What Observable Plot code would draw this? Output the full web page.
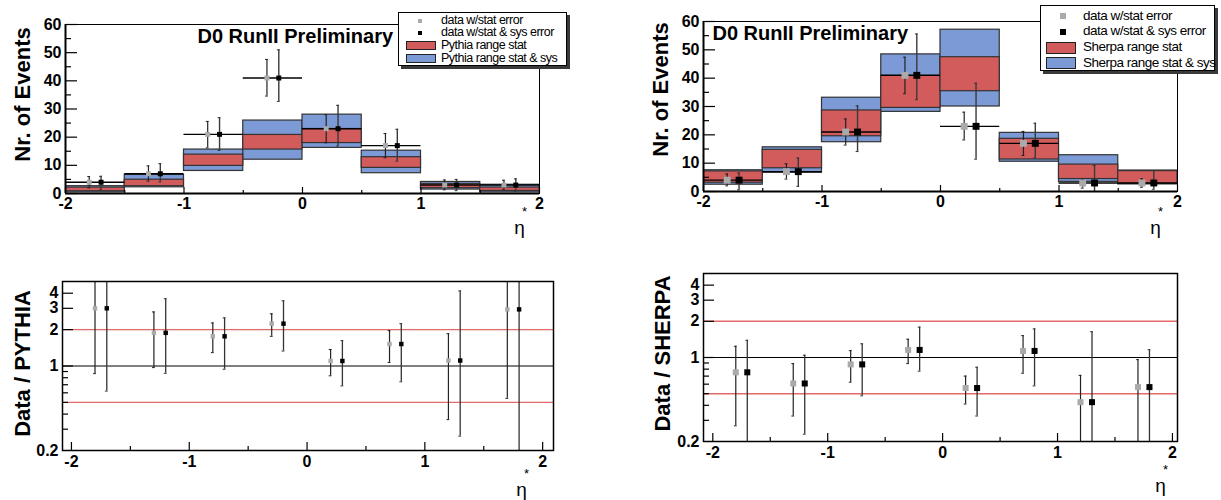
<!DOCTYPE html>
<html><head><meta charset="utf-8">
<script src="https://cdn.jsdelivr.net/npm/d3@7"></script>
<script src="https://cdn.jsdelivr.net/npm/@observablehq/plot@0.6"></script>
<style>
body{margin:0;background:#fff;}
#root{position:relative;width:1221px;height:500px;overflow:hidden;background:#fff;font-family:"Liberation Sans",Arial,sans-serif;}
.panel{position:absolute;}
.panel svg g[aria-label$="tick label"] text{font-weight:bold;font-size:16px;}
.legend{position:absolute;background:#fff;border:1px solid #000;box-shadow:3px 3px 0 #3a3a3a;box-sizing:border-box;}
.legend .item{position:absolute;white-space:nowrap;line-height:1;}
.legend .sw{position:absolute;border:1px solid #222;box-sizing:border-box;}
.legend .mk{position:absolute;}
</style></head><body><div id="root"></div>
<script>
// ---------- data ----------
const binLo = [-2, -1.5, -1, -0.5, 0, 0.5, 1, 1.5];
const binHi = [-1.5, -1, -0.5, 0, 0.5, 1, 1.5, 2];
const grayX = [-1.8, -1.3, -0.8, -0.3, 0.2, 0.7, 1.2, 1.7];
const blackX = [-1.7, -1.2, -0.7, -0.2, 0.3, 0.8, 1.3, 1.8];
const events = [4, 7, 21, 41, 23, 17, 3, 3];

// Pythia panel: data errors
const pyStatLo = [2, 4.4, 16.2, 34.6, 18, 12.7, 1.3, 1.5];
const pyStatHi = [6, 9.8, 25.6, 47.6, 28, 21.3, 4.8, 4.7];
const pyTotLo = [1.5, 4.1, 15.3, 32.7, 16.9, 11.5, 1.0, 0.8];
const pyTotHi = [6.1, 10.6, 26.9, 51, 31.3, 22.8, 5.0, 5.2];
// Pythia bands
const pyBlueLo = [0.4, 2.2, 8.0, 12.0, 16.2, 7.2, 1.4, 0.4];
const pyBlueHi = [2.6, 6.6, 15.6, 25.9, 28.0, 15.2, 4.1, 3.1];
const pyRedLo = [0.8, 2.6, 9.8, 15.6, 17.9, 9.1, 1.9, 0.9];
const pyRedHi = [2.1, 4.9, 13.8, 20.8, 22.9, 12.9, 3.4, 2.1];

// Sherpa panel: data errors
const shStatLo = [2, 4.4, 16.4, 34.5, 18.2, 12.7, 1.2, 1.5];
const shStatHi = [6.2, 9.8, 25.6, 47.4, 28, 21.2, 4.1, 4.5];
const shTotLo = [0.6, 1.8, 14.1, 32.4, 11.4, 11.9, 0, 0.8];
const shTotHi = [6.5, 11.8, 30.2, 55.6, 38.2, 24.1, 9.2, 7.4];
// Sherpa bands
const shBlueLo = [2.4, 6.6, 17.4, 28.1, 30.0, 10.5, 3.4, 2.5];
const shBlueHi = [7.5, 15.6, 33.1, 48.4, 57.1, 20.7, 12.8, 7.4];
const shRedLo = [3.1, 8.2, 19.5, 29.5, 35.4, 11.3, 4.4, 2.7];
const shRedHi = [7.1, 14.7, 28.6, 40.9, 47.4, 18.6, 9.5, 7.2];

// Ratio data / PYTHIA
const rPy = [3.0, 1.88, 1.76, 2.24, 1.10, 1.52, 1.11, 2.94];
const rPyStatLo = [0.865, 0.97, 1.29, 1.76, 0.83, 1.07, 0.36, 0.54];
const rPyStatHi = [6, 2.8, 2.27, 2.7, 1.37, 1.96, 1.85, 6];
const rPyTotLo = [0.62, 0.87, 0.94, 1.33, 0.685, 0.74, 0.263, 0.1];
const rPyTotHi = [6, 3.6, 2.5, 3.46, 1.62, 2.24, 4.18, 6];
// Ratio data / SHERPA
const rSh = [0.753, 0.608, 0.876, 1.156, 0.557, 1.134, 0.425, 0.567];
const rShStatLo = [0.27, 0.326, 0.623, 0.89, 0.41, 0.74, 0.15, 0.15];
const rShStatHi = [1.24, 0.89, 1.14, 1.42, 0.70, 1.52, 0.71, 0.96];
const rShTotLo = [0.15, 0.23, 0.48, 0.77, 0.326, 0.58, 0.1, 0.1];
const rShTotHi = [1.39, 1.045, 1.30, 1.79, 0.83, 1.73, 1.64, 1.16];

// ticks & labels
const xMajor = [-2, -1, 0, 1, 2];
const xMinor = [-1.5, -0.5, 0.5, 1.5];
const yEvMajor = [0, 10, 20, 30, 40, 50, 60];
const yEvMinor = [5, 15, 25, 35, 45, 55];
const yRatioLabels = [0.2, 1, 2, 3, 4];
const yRatioMajor = [1, 2, 3, 4];
const yRatioMinor = [0.3, 0.4, 0.5, 0.6, 0.7, 0.8, 0.9];
const refLines = [0.5, 2];
const titleText = "D0 RunII Preliminary";
const legendPythia = ["data w/stat error", "data w/stat & sys error", "Pythia range stat", "Pythia range stat & sys"];
const legendSherpa = ["data w/stat error", "data w/stat & sys error", "Sherpa range stat", "Sherpa range stat & sys"];

// ---------- style ----------
const BLUE = "#7b9ad6", RED = "#d25b5c", GRAY = "#aaaaaa", REDLINE = "#e46a6a";
const FONT = "'Liberation Sans', Arial, Helvetica, sans-serif";
const root = document.getElementById("root");

function place(svg, left, top) {
  const d = document.createElement("div");
  d.className = "panel";
  d.style.left = left + "px"; d.style.top = top + "px";
  d.appendChild(svg);
  root.appendChild(d);
}

function frameText(str, anchor, dx, dy, opts = {}) {
  return Plot.text([str], {frameAnchor: anchor, text: d => d, dx, dy, ...opts});
}

function caps(rows, xk, lok, hik, c, stroke) {
  return [
    Plot.ruleY(rows, {y: lok, x1: d => d[xk] - c, x2: d => d[xk] + c, stroke, strokeWidth: 1, clip: true}),
    Plot.ruleY(rows, {y: hik, x1: d => d[xk] - c, x2: d => d[xk] + c, stroke, strokeWidth: 1, clip: true})
  ];
}

function etaLabel(dx, dy) {
  return [
    frameText("η", "bottom-right", dx, dy, {fontSize: 19, fontWeight: "normal", textAnchor: "middle", lineAnchor: "middle"}),
    frameText("*", "bottom-right", dx + 5, dy - 16, {fontSize: 13, fontWeight: "normal", textAnchor: "middle", lineAnchor: "middle"})
  ];
}

function topPanel(p) {
  const rows = binLo.map((lo, i) => ({
    lo, hi: binHi[i], xg: grayX[i], xb: blackX[i], v: events[i],
    sLo: p.sLo[i], sHi: p.sHi[i], tLo: p.tLo[i], tHi: p.tHi[i],
    bLo: p.bLo[i], bHi: p.bHi[i], rLo: p.rLo[i], rHi: p.rHi[i]
  }));
  const fw = p.x1 - p.x0, fh = p.y1 - p.y0;
  const svg = Plot.plot({
    width: p.w, height: p.h,
    marginLeft: p.x0 - p.left, marginRight: p.left + p.w - p.x1,
    marginTop: p.y0 - p.top, marginBottom: p.top + p.h - p.y1,
    x: {domain: [-2, 2]}, y: {domain: [0, 60]},
    style: {background: "transparent", fontFamily: FONT, fontSize: "15px", fontWeight: "bold", color: "#000", overflow: "visible"},
    marks: [
      Plot.rect(rows, {x1: "lo", x2: "hi", y1: "bLo", y2: "bHi", fill: BLUE, stroke: "#333", strokeWidth: 1.2, clip: true}),
      Plot.rect(rows, {x1: "lo", x2: "hi", y1: "rLo", y2: "rHi", fill: RED, stroke: "#333", strokeWidth: 1.2, clip: true}),
      Plot.ruleY(rows, {y: "v", x1: "lo", x2: "hi", stroke: "#000", strokeWidth: 1.4, clip: true}),
      Plot.ruleX(rows, {x: "xg", y1: "sLo", y2: "sHi", stroke: "#222", strokeWidth: 1.2, clip: true}),
      Plot.ruleX(rows, {x: "xb", y1: "tLo", y2: "tHi", stroke: "#3a3a3a", strokeWidth: 1.4, clip: true}),
      ...caps(rows, "xg", "sLo", "sHi", 0.012, "#222"),
      ...caps(rows, "xb", "tLo", "tHi", 0.012, "#333"),
      Plot.dot(rows, {x: "xg", y: "v", symbol: "square", r: p.r, fill: GRAY, stroke: "none"}),
      Plot.dot(rows, {x: "xb", y: "v", symbol: "square", r: p.r, fill: "#000", stroke: "none"}),
      Plot.tickY(yEvMajor, {y: d => d, insetRight: fw - 12, stroke: "#000", strokeWidth: 1.2}),
      Plot.tickY(yEvMinor, {y: d => d, insetRight: fw - 6, stroke: "#000", strokeWidth: 1.2}),
      Plot.tickX(xMajor, {x: d => d, insetTop: fh - 6, stroke: "#000", strokeWidth: 1.2}),
      Plot.tickX(xMinor, {x: d => d, insetTop: fh - 3, stroke: "#000", strokeWidth: 1.2}),
      Plot.frame({stroke: "#000", strokeWidth: 1}),
      Plot.ruleX([-2], {stroke: "#000", strokeWidth: 2}),
      Plot.ruleY([0], {stroke: "#000", strokeWidth: 2}),
      Plot.axisY({ticks: yEvMajor, tickSize: 0, tickPadding: 4, tickFormat: d => String(d), label: null, fontSize: 16, fontWeight: "bold"}),
      Plot.axisX({ticks: xMajor, tickSize: 0, tickPadding: 4, tickFormat: d => String(d), label: null, fontSize: 16, fontWeight: "bold"}),
      frameText(titleText, "top-left", p.titleDx, p.titleDy, {fontSize: 20, fontWeight: "bold", textAnchor: "start", lineAnchor: "middle"}),
      frameText("Nr. of Events", "top-left", p.ylDx, p.ylDy, {rotate: -90, fontSize: 22, fontWeight: "bold", textAnchor: "middle", lineAnchor: "middle"}),
      ...etaLabel(p.etaDx, p.etaDy)
    ]
  });
  place(svg, p.left, p.top);
}

function ratioPanel(p) {
  const rows = binLo.map((lo, i) => ({
    xg: grayX[i], xb: blackX[i], v: p.v[i],
    sLo: p.sLo[i], sHi: p.sHi[i], tLo: p.tLo[i], tHi: p.tHi[i]
  }));
  const fw = p.x1 - p.x0, fh = p.y1 - p.y0;
  const svg = Plot.plot({
    width: p.w, height: p.h,
    marginLeft: p.x0 - p.left, marginRight: p.left + p.w - p.x1,
    marginTop: p.y0 - p.top, marginBottom: p.top + p.h - p.y1,
    x: {domain: p.xDomain}, y: {type: "log", domain: [0.2, 5]},
    style: {background: "transparent", fontFamily: FONT, fontSize: "15px", fontWeight: "bold", color: "#000", overflow: "visible"},
    marks: [
      Plot.ruleY(refLines, {y: d => d, stroke: REDLINE, strokeWidth: 1.4}),
      Plot.ruleY([1], {stroke: "#000", strokeWidth: 1.2}),
      Plot.ruleX(rows, {x: "xg", y1: "sLo", y2: "sHi", stroke: "#222", strokeWidth: 1.2, clip: true}),
      Plot.ruleX(rows, {x: "xb", y1: "tLo", y2: "tHi", stroke: "#333", strokeWidth: 1.3, clip: true}),
      ...caps(rows, "xg", "sLo", "sHi", 0.012, "#222"),
      ...caps(rows, "xb", "tLo", "tHi", 0.012, "#333"),
      Plot.dot(rows, {x: "xg", y: "v", symbol: "square", r: p.r, fill: GRAY, stroke: "none"}),
      Plot.dot(rows, {x: "xb", y: "v", symbol: "square", r: p.r, fill: "#000", stroke: "none"}),
      Plot.tickY(yRatioMajor, {y: d => d, insetRight: fw - 11, stroke: "#000", strokeWidth: 1.2}),
      Plot.tickY(yRatioMinor, {y: d => d, insetRight: fw - 6, stroke: "#000", strokeWidth: 1.2}),
      Plot.tickX(xMajor, {x: d => d, insetTop: fh - 8, stroke: "#000", strokeWidth: 1.2}),
      Plot.tickX(xMinor, {x: d => d, insetTop: fh - 4, stroke: "#000", strokeWidth: 1.2}),
      Plot.frame({stroke: "#000", strokeWidth: 1.5}),
      Plot.axisY({ticks: yRatioLabels, tickSize: 0, tickPadding: 4, tickFormat: d => String(d), label: null, fontSize: 16, fontWeight: "bold"}),
      Plot.axisX({ticks: xMajor, tickSize: 0, tickPadding: 5, tickFormat: d => String(d), label: null, fontSize: 16, fontWeight: "bold"}),
      frameText(p.ylabel, "top-left", p.ylDx, p.ylDy, {rotate: -90, fontSize: 22, fontWeight: "bold", textAnchor: "middle", lineAnchor: "middle"}),
      ...etaLabel(p.etaDx, p.etaDy)
    ]
  });
  place(svg, p.left, p.top);
}

function legend(l, labels) {
  const box = document.createElement("div");
  box.className = "legend";
  Object.assign(box.style, {left: l.x + "px", top: l.y + "px", width: l.w + "px", height: l.h + "px"});
  labels.forEach((t, i) => {
    const cy = l.rows[i] - l.y;
    const it = document.createElement("div");
    it.className = "item";
    it.textContent = t;
    Object.assign(it.style, {left: (l.textX - l.x) + "px", top: (cy - l.fs * 0.55) + "px", fontSize: l.fs + "px", letterSpacing: l.ls + "px"});
    box.appendChild(it);
    if (i < 2) {
      const m = document.createElement("div");
      m.className = "mk";
      Object.assign(m.style, {left: (l.mkX - l.x - l.mk / 2) + "px", top: (cy - l.mk / 2) + "px", width: l.mk + "px", height: l.mk + "px", background: i === 0 ? GRAY : "#000"});
      box.appendChild(m);
    } else {
      const s = document.createElement("div");
      s.className = "sw";
      Object.assign(s.style, {left: (l.swX0 - l.x) + "px", top: (cy - l.swH / 2) + "px", width: (l.swX1 - l.swX0) + "px", height: l.swH + "px", background: i === 2 ? RED : BLUE});
      box.appendChild(s);
    }
  });
  root.appendChild(box);
}

topPanel({left: 0, top: 0, w: 610, h: 250, x0: 65, x1: 539, y0: 24, y1: 193, r: 2.8,
  sLo: pyStatLo, sHi: pyStatHi, tLo: pyTotLo, tHi: pyTotHi,
  bLo: pyBlueLo, bHi: pyBlueHi, rLo: pyRedLo, rHi: pyRedHi,
  titleDx: 132, titleDy: 12, ylDx: -43, ylDy: 70, etaDx: -20, etaDy: 34});
topPanel({left: 610, top: 0, w: 611, h: 250, x0: 703, x1: 1177, y0: 21, y1: 191, r: 3.9,
  sLo: shStatLo, sHi: shStatHi, tLo: shTotLo, tHi: shTotHi,
  bLo: shBlueLo, bHi: shBlueHi, rLo: shRedLo, rHi: shRedHi,
  titleDx: 9, titleDy: 12, ylDx: -43, ylDy: 68, etaDx: -22, etaDy: 36});
ratioPanel({left: 0, top: 250, w: 610, h: 250, x0: 62, x1: 553, y0: 281, y1: 450, r: 2.5,
  xDomain: [-2.076, 2.092], v: rPy, sLo: rPyStatLo, sHi: rPyStatHi, tLo: rPyTotLo, tHi: rPyTotHi,
  ylabel: "Data / PYTHIA", ylDx: -40, ylDy: 82, etaDx: -32, etaDy: 39});
ratioPanel({left: 610, top: 250, w: 611, h: 250, x0: 703, x1: 1177, y0: 273, y1: 441, r: 3.4,
  xDomain: [-2.081, 2.044], v: rSh, sLo: rShStatLo, sHi: rShStatHi, tLo: rShTotLo, tHi: rShTotHi,
  ylabel: "Data / SHERPA", ylDx: -41, ylDy: 80, etaDx: -17, etaDy: 44});

legend({x: 398, y: 12, w: 169, h: 54, rows: [20, 32, 44.5, 57.5], textX: 440, fs: 12.5, ls: -0.5,
  mkX: 419, mk: 4, swX0: 405, swX1: 435, swH: 9}, legendPythia);
legend({x: 1040, y: 5, w: 175, h: 66, rows: [15, 30.5, 46.5, 62], textX: 1082, fs: 13.5, ls: -0.5,
  mkX: 1062, mk: 6, swX0: 1045, swX1: 1075, swH: 12}, legendSherpa);
</script></body></html>
